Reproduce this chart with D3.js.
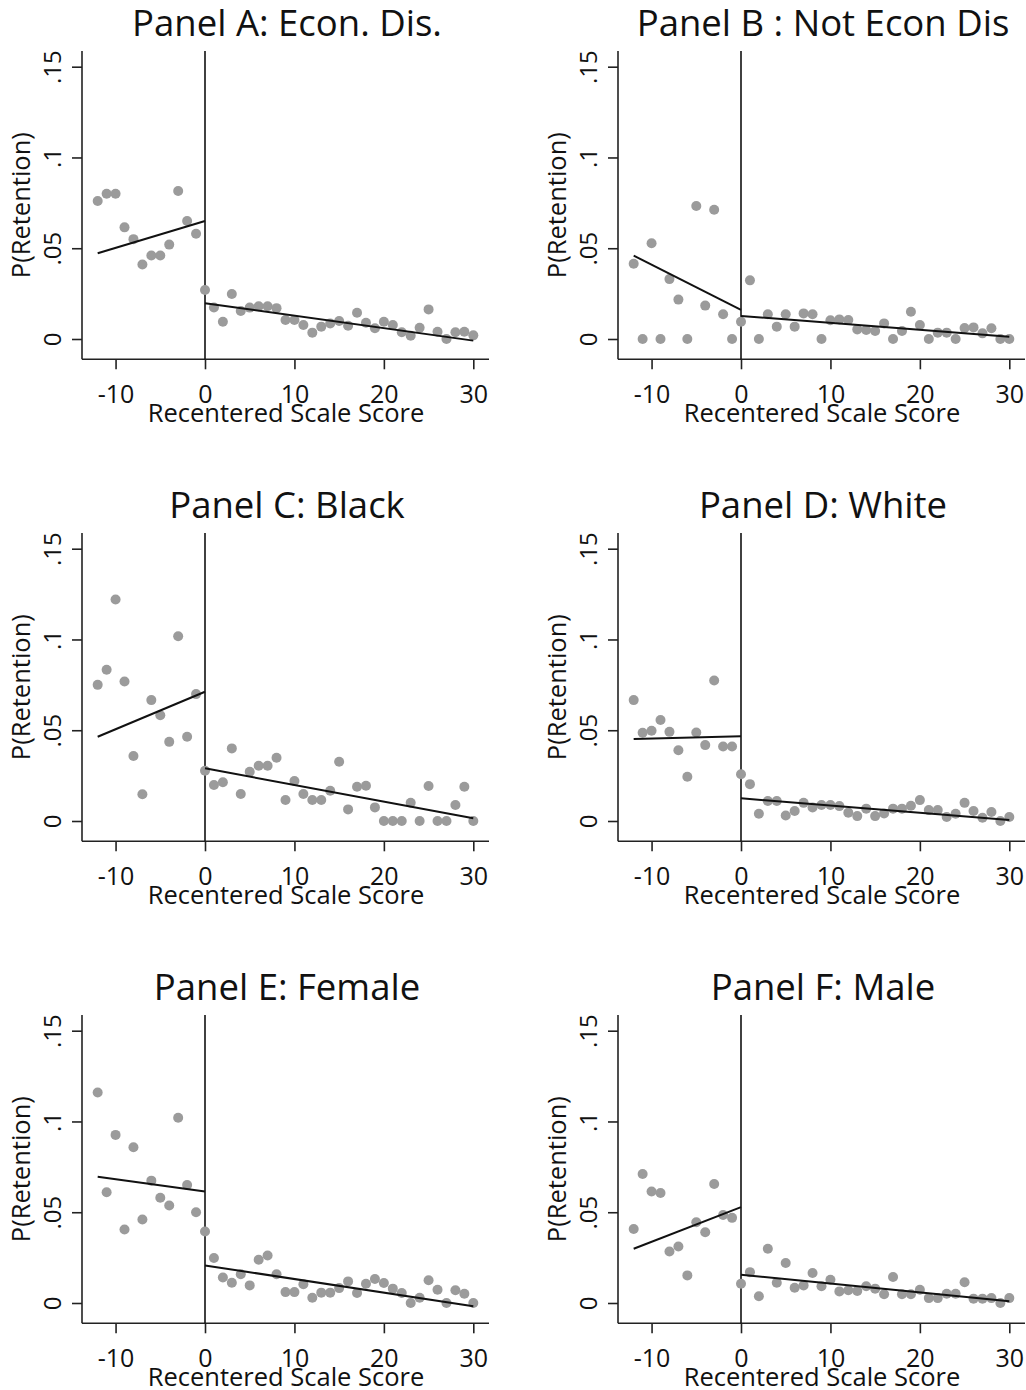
<!DOCTYPE html>
<html>
<head>
<meta charset="utf-8">
<script src="https://cdn.jsdelivr.net/npm/d3@7"></script>
<style>
  html, body { margin: 0; padding: 0; background: #fff; }
  svg { display: block; font-family: "Open Sans", "Noto Sans", sans-serif; }
</style>
</head>
<body>
<svg id="chart" width="1026" height="1390"></svg>
<script>
// ---------- data ----------
const scores = d3.range(-12, 31); // -12 .. 30

const panelTitles = ["Panel A: Econ. Dis.", "Panel B : Not Econ Dis", "Panel C: Black",
                     "Panel D: White", "Panel E: Female", "Panel F: Male"];

const econDis = [0.076,0.080,0.080,0.0615,0.055,0.041,0.046,0.046,0.052,0.0815,0.065,0.058,
  0.027,0.0174,0.0095,0.0248,0.0154,0.0173,0.018,0.018,0.017,0.0105,0.0105,0.0077,0.0035,0.0068,
  0.0086,0.0099,0.0073,0.0145,0.009,0.0059,0.0095,0.0077,0.0037,0.0018,0.0062,0.0163,0.004,0,0.0037,0.004,0.002];
const notEconDis = [0.0415,0,0.0527,0,0.033,0.0217,0,0.0733,0.0184,0.0712,0.0136,0,
  0.0095,0.0323,0,0.0136,0.0068,0.0136,0.0068,0.0141,0.0136,0,0.0103,0.0108,0.0105,0.0053,
  0.005,0.0044,0.0086,0,0.0044,0.015,0.0077,0,0.0035,0.0035,0,0.006,0.0064,0.0031,0.0059,0,0];
const black = [0.075,0.0833,0.122,0.0768,0.0358,0.0147,0.0666,0.0583,0.0436,0.1018,0.0464,0.0699,
  0.0277,0.0198,0.0213,0.040,0.0149,0.0271,0.0304,0.0304,0.0348,0.0116,0.022,0.0149,0.0116,0.0116,
  0.0167,0.0326,0.0064,0.0189,0.0194,0.0075,0,0,0,0.0101,0,0.0193,0,0,0.0088,0.0189,0];
const white = [0.0666,0.0486,0.0497,0.0556,0.0491,0.039,0.0244,0.0488,0.0418,0.0774,0.041,0.041,
  0.0258,0.0203,0.004,0.011,0.011,0.003,0.0055,0.010,0.0075,0.0088,0.0088,0.0082,0.0046,0.0027,
  0.0068,0.0027,0.0042,0.0068,0.0068,0.0084,0.0115,0.006,0.006,0.0022,0.004,0.010,0.0055,0.0018,0.005,0,0.0022];
const female = [0.116,0.061,0.0926,0.0405,0.0858,0.046,0.0674,0.058,0.0537,0.102,0.065,0.050,
  0.0394,0.0248,0.014,0.0112,0.0158,0.0097,0.0238,0.0262,0.0158,0.006,0.006,0.0103,0.0029,0.0057,
  0.0057,0.0082,0.0119,0.0055,0.0106,0.0132,0.011,0.0079,0.0055,0,0.0029,0.0125,0.0073,0,0.007,0.0051,0];
const male = [0.0408,0.0711,0.0614,0.0606,0.0284,0.0311,0.0152,0.0445,0.039,0.0656,0.0485,0.0469,
  0.0106,0.017,0.0037,0.0299,0.0112,0.022,0.0084,0.0097,0.0165,0.0092,0.0128,0.0064,0.007,0.0066,
  0.0092,0.0079,0.0048,0.0143,0.0048,0.0048,0.0073,0.0027,0.0027,0.0051,0.0051,0.0114,0.0024,0.0024,0.0027,0,0.0027];

// fitted line endpoints: [left at -12, left at 0, right at 0, right at 30]
const fitEconDis    = [0.0472, 0.0650, 0.0197, -0.0009];
const fitNotEconDis = [0.0459, 0.0160, 0.0127, 0.0013];
const fitBlack      = [0.0464, 0.0712, 0.0290, 0.0015];
const fitWhite      = [0.0452, 0.0467, 0.0125, 0.0005];
const fitFemale     = [0.0696, 0.0614, 0.0207, -0.0018];
const fitMale       = [0.0299, 0.0528, 0.0156, 0.0009];

const seriesList = [econDis, notEconDis, black, white, female, male];
const fitList = [fitEconDis, fitNotEconDis, fitBlack, fitWhite, fitFemale, fitMale];

const xTicks = [-10, 0, 10, 20, 30];
const xTickLabels = ["-10", "0", "10", "20", "30"];
const yTicks = [0, 0.05, 0.1, 0.15];
const yTickLabels = ["0", ".05", ".1", ".15"];
const xTitle = "Recentered Scale Score";
const yTitle = "P(Retention)";

// ---------- layout ----------
const svg = d3.select("#chart");
const colOffset = 536, rowOffset = 482;
const FONT = "'Open Sans', 'Noto Sans', sans-serif";

const x = d3.scaleLinear().domain([0, 30]).range([205, 473.3]);
const y = d3.scaleLinear().domain([0, 0.15]).range([339, 66.7]);
const plotTop = 51, plotBottom = 359.3, plotLeft = 82, plotRight = 489;

seriesList.forEach((vals, i) => {
  const col = i % 2, row = Math.floor(i / 2);
  const g = svg.append("g").attr("transform", `translate(${col * colOffset},${row * rowOffset})`);

  // title
  g.append("text").attr("x", 287).attr("y", 36)
    .attr("text-anchor", "middle").attr("font-size", 36.5).attr("fill", "#111")
    .text(panelTitles[i]);

  // y axis
  const yAxis = d3.axisLeft(y).tickValues(yTicks).tickSize(10)
    .tickFormat((d, k) => yTickLabels[k]);
  const ya = g.append("g").attr("transform", `translate(${plotLeft},0)`).call(yAxis);
  ya.select(".domain").remove();
  ya.selectAll(".tick line").attr("stroke", "#222").attr("stroke-width", 1.6);
  ya.selectAll(".tick text")
    .attr("x", null).attr("dy", null)
    .attr("transform", "translate(-21,0) rotate(-90)")
    .attr("text-anchor", "middle").attr("font-size", 24).attr("fill", "#111")
    .attr("font-family", FONT);

  // x axis
  const xAxis = d3.axisBottom(x).tickValues(xTicks).tickSize(10)
    .tickFormat((d, k) => xTickLabels[k]);
  const xa = g.append("g").attr("transform", `translate(0,${plotBottom})`).call(xAxis);
  xa.select(".domain").remove();
  xa.selectAll(".tick line").attr("stroke", "#222").attr("stroke-width", 1.6);
  xa.selectAll(".tick text").attr("y", 44).attr("dy", null)
    .attr("font-size", 25).attr("fill", "#111")
    .attr("font-family", FONT);

  // axis lines
  g.append("line").attr("x1", plotLeft).attr("x2", plotLeft).attr("y1", plotTop).attr("y2", plotBottom)
    .attr("stroke", "#222").attr("stroke-width", 1.6);
  g.append("line").attr("x1", plotLeft).attr("x2", plotRight).attr("y1", plotBottom).attr("y2", plotBottom)
    .attr("stroke", "#222").attr("stroke-width", 1.6);

  // axis titles
  g.append("text").attr("x", 286).attr("y", 422)
    .attr("text-anchor", "middle").attr("font-size", 25.5).attr("fill", "#111").text(xTitle);
  g.append("text").attr("transform", `translate(29.5,${(plotTop + plotBottom) / 2}) rotate(-90)`)
    .attr("text-anchor", "middle").attr("font-size", 25.5).attr("fill", "#111").text(yTitle);

  // cutoff line
  g.append("line").attr("x1", x(0)).attr("x2", x(0)).attr("y1", plotTop).attr("y2", plotBottom)
    .attr("stroke", "#111").attr("stroke-width", 1.6);

  // points
  g.append("g").selectAll("circle").data(scores.map((s, k) => [s, vals[k]]))
    .join("circle").attr("cx", d => x(d[0])).attr("cy", d => y(d[1])).attr("r", 5)
    .attr("fill", "#9b9b9b");

  // fitted lines
  const f = fitList[i];
  const line = d3.line().x(d => x(d[0])).y(d => y(d[1]));
  g.append("path").attr("d", line([[-12, f[0]], [0, f[1]]]))
    .attr("fill", "none").attr("stroke", "#111").attr("stroke-width", 2);
  g.append("path").attr("d", line([[0, f[2]], [30, f[3]]]))
    .attr("fill", "none").attr("stroke", "#111").attr("stroke-width", 2);
});
</script>
</body>
</html>
